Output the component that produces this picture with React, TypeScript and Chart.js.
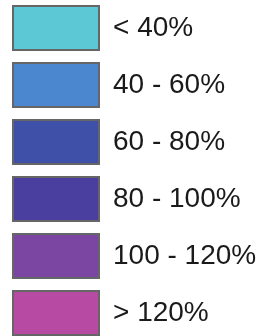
import React, { useEffect, useRef } from "react";
import { Chart, registerables } from "chart.js";

Chart.register(...registerables);

const categories = ["< 40%", "40 - 60%", "60 - 80%", "80 - 100%", "100 - 120%", "> 120%"];
const fillColors = ["#5cc7d5", "#4a87cf", "#3f50a8", "#4a3f9e", "#7a46a1", "#b74aa3"];
const borderColor = "#666666";

export default function App() {
  const ref = useRef<HTMLCanvasElement | null>(null);
  useEffect(() => {
    if (!ref.current) return;
    const chart = new Chart(ref.current, {
      type: "bar",
      data: { labels: [], datasets: [] },
      options: {
        animation: false,
        responsive: false,
        layout: { padding: 0 },
        scales: { x: { display: false }, y: { display: false } },
        plugins: {
          tooltip: { enabled: false },
          legend: {
            display: true,
            position: "left",
            align: "start",
            maxWidth: 400,
            labels: {
              boxWidth: 86,
              boxHeight: 44,
              padding: 13,
              color: "#1a1a1a",
              font: { family: "'Liberation Sans', Arial, sans-serif", size: 28 },
              generateLabels: () =>
                categories.map((text, i) => ({
                  text,
                  fillStyle: fillColors[i],
                  strokeStyle: borderColor,
                  lineWidth: 2,
                  hidden: false,
                  fontColor: "#1a1a1a",
                  datasetIndex: i,
                })),
            },
          },
        },
      },
    });
    return () => chart.destroy();
  }, []);
  return (
    <div style={{ position: "fixed", left: 0, top: 0, width: 264, height: 336, overflow: "hidden", background: "#fff" }}>
      <canvas ref={ref} width={264} height={400} style={{ position: "absolute", left: 0, top: -7 }} />
    </div>
  );
}
